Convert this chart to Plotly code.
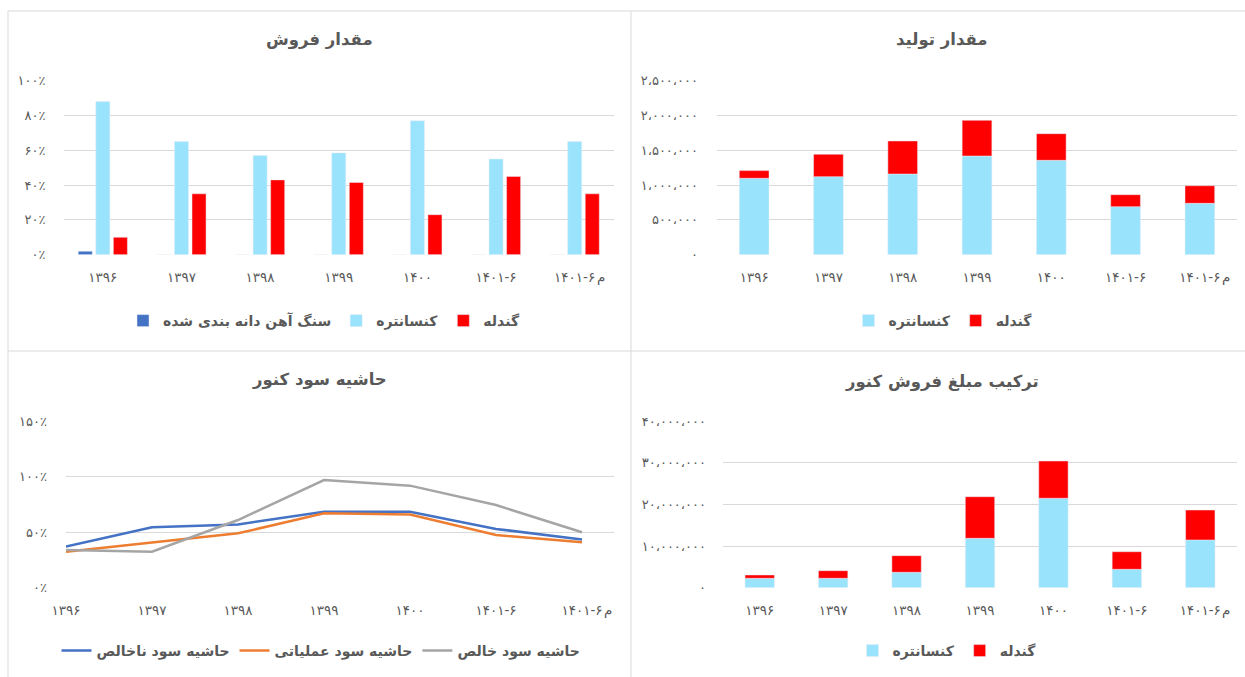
import plotly.graph_objects as go

W, H = 1245, 677

categories = ["۱۳۹۶", "۱۳۹۷", "۱۳۹۸", "۱۳۹۹", "۱۴۰۰", "۱۴۰۱-۶", "۱۴۰۱-۶م"]
# tick label text (last label's trailing "م" is drawn as a suffix next to it)
xtick_text = ["۱۳۹۶", "۱۳۹۷", "۱۳۹۸", "۱۳۹۹", "۱۴۰۰", "۱۴۰۱-۶", "۱۴۰۱-۶"]
last_suffix = "م"

# مقدار فروش (share, %)
sales_ore = [2, 0, 0, 0, 0, 0, 0]
sales_concentrate = [88, 65, 57, 58.5, 77, 55, 65]
sales_pellet = [10, 35, 43, 41.5, 23, 45, 35]

# مقدار تولید (ton)
prod_concentrate = [1098000, 1121000, 1159000, 1418000, 1356000, 690000, 738000]
prod_pellet = [110000, 322000, 475000, 513000, 383000, 172000, 253000]

# حاشیه سود کنور (%)
margin_gross = [37, 54.5, 57, 68.5, 68.5, 53, 43.5]
margin_operating = [32.5, 41, 49, 67, 66, 47.5, 41]
margin_net = [34, 32.5, 61, 97, 92, 74.5, 50]

# ترکیب مبلغ فروش کنور
rev_concentrate = [2260000, 2260000, 3700000, 11870000, 21500000, 4420000, 11470000]
rev_pellet = [800000, 1830000, 4000000, 10000000, 8960000, 4230000, 7200000]

# tick labels
pct100_vals = [0, 20, 40, 60, 80, 100]
pct100_text = ["۰٪", "۲۰٪", "۴۰٪", "۶۰٪", "۸۰٪", "۱۰۰٪"]
prod_vals = [0, 500000, 1000000, 1500000, 2000000, 2500000]
prod_text = ["۰", "۵۰۰،۰۰۰", "۱،۰۰۰،۰۰۰", "۱،۵۰۰،۰۰۰", "۲،۰۰۰،۰۰۰", "۲،۵۰۰،۰۰۰"]
pct150_vals = [0, 50, 100, 150]
pct150_text = ["۰٪", "۵۰٪", "۱۰۰٪", "۱۵۰٪"]
rev_vals = [0, 10000000, 20000000, 30000000, 40000000]
rev_text = ["۰", "۱۰،۰۰۰،۰۰۰", "۲۰،۰۰۰،۰۰۰", "۳۰،۰۰۰،۰۰۰", "۴۰،۰۰۰،۰۰۰"]

titles = ["مقدار فروش", "مقدار تولید", "حاشیه سود کنور", "ترکیب مبلغ فروش کنور"]
name_ore = "سنگ آهن دانه بندی شده"
name_conc = "کنسانتره"
name_pellet = "گندله"
name_gross = "حاشیه سود ناخالص"
name_oper = "حاشیه سود عملیاتی"
name_net = "حاشیه سود خالص"

C_BLUE = "#4472C4"
C_LBLUE = "#99E3FD"
C_RED = "#FF0000"
C_ORANGE = "#ED7D31"
C_GRAY = "#A5A5A5"
TXT = "#595959"
GRID = "#D9D9D9"
FONT = "DejaVu Sans"

def px(x):
    return x / W

def py(y):
    return 1 - y / H

def b(s):
    return "<b>" + s + "</b>"

fig = go.Figure()

# --- top-left: grouped bars
fig.add_trace(go.Bar(x=categories, y=sales_ore, name=b(name_ore), marker_color=C_BLUE,
                     xaxis="x", yaxis="y", legend="legend"))
fig.add_trace(go.Bar(x=categories, y=sales_concentrate, name=b(name_conc), marker_color=C_LBLUE,
                     xaxis="x", yaxis="y", legend="legend"))
fig.add_trace(go.Bar(x=categories, y=sales_pellet, name=b(name_pellet), marker_color=C_RED,
                     xaxis="x", yaxis="y", legend="legend"))

# --- top-right: stacked bars
fig.add_trace(go.Bar(x=categories, y=prod_concentrate, name=b(name_conc), marker_color=C_LBLUE,
                     xaxis="x2", yaxis="y2", legend="legend2", offsetgroup="p", width=0.4))
fig.add_trace(go.Bar(x=categories, y=prod_pellet, name=b(name_pellet), marker_color=C_RED,
                     xaxis="x2", yaxis="y2", legend="legend2", offsetgroup="p", width=0.4,
                     base=prod_concentrate))

# --- bottom-left: lines
fig.add_trace(go.Scatter(x=categories, y=margin_gross, name=b(name_gross), mode="lines",
                         line=dict(color=C_BLUE, width=2.5), xaxis="x3", yaxis="y3", legend="legend3"))
fig.add_trace(go.Scatter(x=categories, y=margin_operating, name=b(name_oper), mode="lines",
                         line=dict(color=C_ORANGE, width=2.5), xaxis="x3", yaxis="y3", legend="legend3"))
fig.add_trace(go.Scatter(x=categories, y=margin_net, name=b(name_net), mode="lines",
                         line=dict(color=C_GRAY, width=2.5), xaxis="x3", yaxis="y3", legend="legend3"))

# --- bottom-right: stacked bars
fig.add_trace(go.Bar(x=categories, y=rev_concentrate, name=b(name_conc), marker_color=C_LBLUE,
                     xaxis="x4", yaxis="y4", legend="legend4", offsetgroup="r", width=0.4))
fig.add_trace(go.Bar(x=categories, y=rev_pellet, name=b(name_pellet), marker_color=C_RED,
                     xaxis="x4", yaxis="y4", legend="legend4", offsetgroup="r", width=0.4,
                     base=rev_concentrate))

xtickfont = dict(family=FONT, size=13.5, color=TXT)
ytickfont = dict(family=FONT, size=13, color=TXT)

def xax(dom, anchor):
    return dict(domain=dom, anchor=anchor, type="category", categoryorder="array",
                categoryarray=categories, tickvals=categories, ticktext=xtick_text,
                showgrid=False, zeroline=False,
                showline=False, ticks="", tickfont=xtickfont, ticklabelstandoff=13,
                automargin=False, fixedrange=True)

def yax(dom, anchor, rng, vals, text, standoff):
    return dict(domain=dom, anchor=anchor, range=rng, tickvals=vals, ticktext=text,
                showgrid=True, gridcolor=GRID, gridwidth=1, zeroline=False, showline=False,
                ticks="", tickfont=ytickfont, ticklabelstandoff=standoff,
                automargin=False, fixedrange=True)

top_dom = [py(254.7), py(80.7)]
bot_dom = [py(587.7), py(421.3)]

legfont = dict(family=FONT, size=14, color=TXT)

def leg(x, y):
    return dict(orientation="h", x=px(x), y=py(y), xanchor="center", yanchor="middle",
                font=legfont, bgcolor="rgba(0,0,0,0)", itemwidth=30)

fig.update_layout(
    width=W, height=H, autosize=False, margin=dict(l=0, r=0, t=0, b=0, pad=0, autoexpand=False),
    paper_bgcolor="white", plot_bgcolor="white",
    barmode="group", bargap=0.33, bargroupgap=0.2,
    xaxis=xax([px(63.5), px(614)], "y"),
    yaxis=yax(top_dom, "x", [0, 100], pct100_vals, pct100_text, 17),
    xaxis2=xax([px(717), px(1237)], "y2"),
    yaxis2=yax(top_dom, "x2", [0, 2500000], prod_vals, prod_text, 18),
    xaxis3=xax([px(66), px(614)], "y3"),
    yaxis3=yax(bot_dom, "x3", [0, 150], pct150_vals, pct150_text, 18),
    xaxis4=xax([px(723), px(1237)], "y4"),
    yaxis4=yax(bot_dom, "x4", [0, 40000000], rev_vals, rev_text, 16),
    legend=leg(324, 321),
    legend2=leg(943, 321),
    legend3=leg(321, 651),
    legend4=leg(947, 651),
)

# suffix "م" of the last category label, attached to that category on each x axis
for xr, yl in [("x", 277), ("x2", 277), ("x3", 610), ("x4", 610)]:
    fig.add_annotation(text=last_suffix, x=categories[-1], xref=xr, y=py(yl), yref="paper",
                       xanchor="left", yanchor="middle", xshift=20, showarrow=False,
                       font=dict(family=FONT, size=13.5, color=TXT))

title_pos = [(320, 40), (942, 40), (320, 380), (942, 382)]
for t, (tx, ty) in zip(titles, title_pos):
    fig.add_annotation(text=b(t), x=px(tx), y=py(ty), xref="paper", yref="paper",
                       xanchor="center", yanchor="middle", showarrow=False,
                       font=dict(family=FONT, size=16.5, color=TXT))

# panel borders
border = dict(color=GRID, width=1)
for x0, y0, x1, y1 in [(8, 11, 1245, 11), (8, 351, 1245, 351), (8, 11, 8, 677), (631, 11, 631, 677)]:
    fig.add_shape(type="line", xref="paper", yref="paper", x0=px(x0), y0=py(y0), x1=px(x1), y1=py(y1),
                  line=border, layer="below")

fig.write_html(
    "out.html",
    config={"displayModeBar": False},
    post_script="document.body.style.margin='0';document.body.style.overflow='hidden';",
)
